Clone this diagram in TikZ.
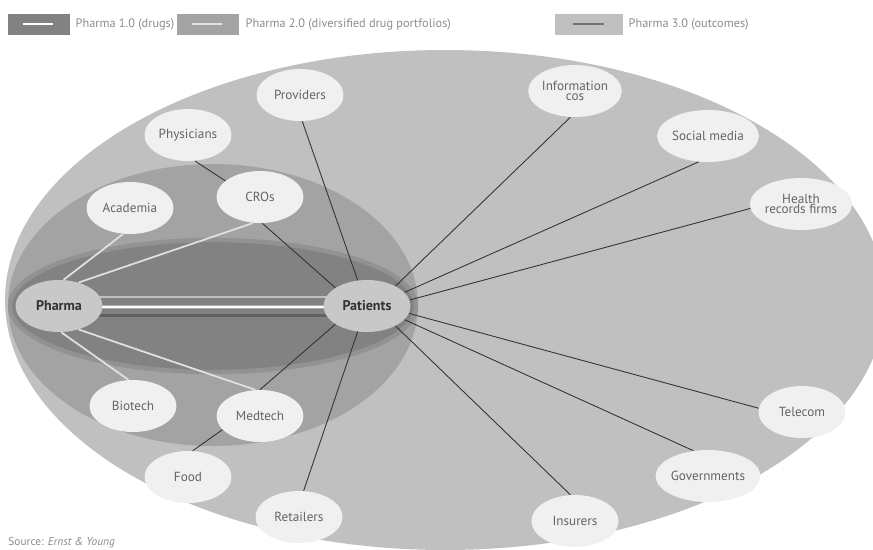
\documentclass[tikz,border=0pt]{standalone}
\usepackage{fontspec}
\setmainfont{PT Sans}
\usetikzlibrary{shapes.geometric,backgrounds}

\definecolor{outergray}{RGB}{192,192,192}
\definecolor{midgray}{RGB}{163,163,163}
\definecolor{innergray}{RGB}{130,130,130}
\definecolor{ringgray}{RGB}{146,146,146}
\definecolor{bubblegray}{RGB}{240,240,240}
\definecolor{hubgray}{RGB}{200,200,200}
\definecolor{labelgray}{RGB}{100,100,100}
\definecolor{keygray}{RGB}{140,140,140}

\begin{document}
\begin{tikzpicture}[x=0.02cm,y=-0.02cm,
	partner/.style={ellipse,fill=bubblegray,minimum width=1.74cm,minimum height=1.04cm,
		inner sep=0pt,align=center,text=labelgray,font=\fontsize{7.5}{8}\selectfont},
	hub/.style={partner,fill=hubgray,text=black!80,font=\bfseries\fontsize{8}{9}\selectfont},
	keybox/.style={rectangle,minimum width=1.24cm,minimum height=0.42cm,inner sep=0pt},
	keytext/.style={anchor=west,inner sep=0pt,text=keygray,font=\fontsize{7}{8}\selectfont},
	drugs/.style={white,line width=1.2pt},
	portfolio/.style={white!88!black,line width=1pt},
	outcome/.style={black!80,line width=0.5pt}]
	\clip (0,0) rectangle (873,549);

	% legend
	\node[keybox,fill=innergray] (key1) at (39,24) {};
	\node[keybox,fill=midgray] (key2) at (208,24) {};
	\node[keybox,fill=outergray,minimum width=1.36cm] (key3) at (589,24) {};
	\draw[drugs] ([xshift=0.3cm]key1.west) -- ([xshift=-0.34cm]key1.east);
	\draw[portfolio] ([xshift=0.3cm]key2.west) -- ([xshift=-0.34cm]key2.east);
	\draw[black!55,line width=1pt] ([xshift=0.36cm]key3.west) -- ([xshift=-0.38cm]key3.east);
	\node[keytext] (keytext1) at ([xshift=0.1cm]key1.east) {Pharma 1.0 (drugs)};
	\node[keytext] (keytext2) at ([xshift=0.12cm]key2.east) {Pharma 2.0 (diversified drug portfolios)};
	\node[keytext] (keytext3) at ([xshift=0.1cm]key3.east) {Pharma 3.0 (outcomes)};

	% the two hubs
	\node[hub] (pharma) at (59,306) {Pharma};
	\node[hub] (patients) at (367,306) {Patients};

	% partners
	\node[partner] (providers) at (300,95) {Providers};
	\node[partner] (physicians) at (188,135) {Physicians};
	\node[partner] (cros) at (260,197) {CROs};
	\node[partner] (academia) at (130,208) {Academia};
	\node[partner] (biotech) at (133,406) {Biotech};
	\node[partner] (medtech) at (260,416) {Medtech};
	\node[partner] (food) at (188,477) {Food};
	\node[partner] (retailers) at (299,517) {Retailers};
	\node[partner] (infocos) at (575,91) {Information\\[-2pt]cos};
	\node[partner] (socmedia) at (708,136) {Social media};
	\node[partner] (records) at (801,204) {Health\\[-2pt]records firms};
	\node[partner] (telecom) at (802,412) {Telecom};
	\node[partner] (govts) at (708,476) {Governments};
	\node[partner] (insurers) at (575,521) {Insurers};

	\begin{pgfonlayer}{background}
		\fill[outergray] (445,300) ellipse [x radius=440, y radius=250];
		\fill[midgray] (213,305) ellipse [x radius=205, y radius=141];
		\filldraw[fill=innergray,draw=ringgray,line width=2.5pt] (213,306) ellipse [x radius=203, y radius=66];
		% Pharma 1.0 to 3.0 side by side
		\draw[white!75!black,line width=1.1pt] ([yshift=0.18cm]pharma.center) -- ([yshift=0.18cm]patients.center);
		\draw[white!68!black,line width=2.8pt] ([yshift=-0.02cm]pharma.center) -- ([yshift=-0.02cm]patients.center);
		\draw[drugs] ([yshift=-0.02cm]pharma.center) -- ([yshift=-0.02cm]patients.center);
		\draw[black!62,line width=1.7pt] ([yshift=-0.18cm]pharma.center) -- ([yshift=-0.18cm]patients.center);
	\end{pgfonlayer}

	% Pharma 2.0
	\draw[portfolio] (pharma.80) -- (academia.255);
	\draw[portfolio] (pharma.50) -- (cros.255);
	\draw[portfolio] (pharma.-85) -- (biotech.100);
	\draw[portfolio] (pharma.-50) -- (medtech.100);

	% Pharma 3.0
	\draw[outcome] (physicians.-75) -- (cros.155);
	\draw[outcome] (cros.-85) -- (patients.150);
	\draw[outcome] (providers.-85) -- (patients.110);
	\draw[outcome] (medtech.north) -- (patients.210);
	\draw[outcome] (food.80) -- (medtech.200);
	\draw[outcome] (retailers.80) -- (patients.-110);
	\draw[outcome] (patients.35) -- (infocos.-100);
	\draw[outcome] (patients.20) -- (socmedia.-110);
	\draw[outcome] (patients.8) -- (records.185);
	\draw[outcome] (patients.-10) -- (telecom.175);
	\draw[outcome] (patients.-20) -- (govts.120);
	\draw[outcome] (patients.-35) -- (insurers.100);

	\node[keytext,font=\fontsize{6.5}{7}\selectfont] (source) at (8,543) {Source: \textit{Ernst \& Young}};
\end{tikzpicture}
\end{document}
